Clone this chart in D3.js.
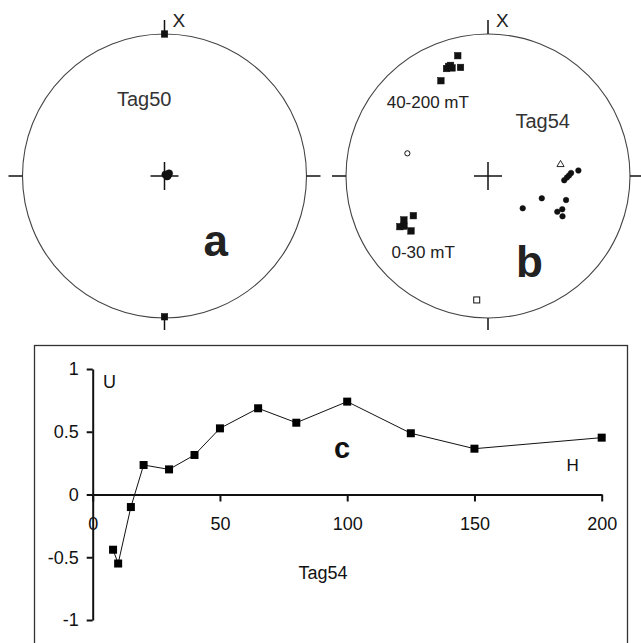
<!DOCTYPE html>
<html>
<head>
<meta charset="utf-8">
<script src="https://cdn.jsdelivr.net/npm/d3@7"></script>
<style>
  body { margin: 0; background: #fff; }
  svg { display: block; font-family: "Liberation Sans", Arial, sans-serif; }
</style>
</head>
<body>
<svg id="fig" width="641" height="643"></svg>
<script>
// ---- Stereonet directions: [declination, inclination] in degrees (positive = lower hemisphere) ----
const tag50Squares = [[0, 0], [180, 1]];
const tag50Circles = [[60, 87], [100, 88.5], [30, 89], [80, 88]];

const tag54HighSquares = [[345.9, 13.7], [341.3, 18.9], [338.9, 20.0], [341.6, 20.9], [345.8, 22.2], [333.7, 26.1], [340.2, 19.1]];
const tag54LowSquares = [[242.0, 40.2], [242.4, 33.6], [240.1, 29.2], [239.2, 31.7], [234.5, 33.8]];
const tag54Circles = [[86.5, 36.4], [87.9, 41.1], [89.6, 42.4], [91.1, 43.7], [93.2, 45.3], [112.5, 56.3], [132.9, 62.7], [107.1, 42.0], [114.1, 42.2], [117.3, 44.3], [118.4, 40.1]];
const tag54OpenCircles = [[285.7, -40.7]];
const tag54OpenSquares = [[185.2, -13.4]];
const tag54OpenTriangles = [[81.0, -47.1]];

// ---- U versus alternating field H (mT) for Tag54 ----
const fieldH = [8, 10, 15, 20, 30, 40, 50, 65, 80, 100, 125, 150, 200];
const uValues = [-0.44, -0.55, -0.10, 0.235, 0.20, 0.315, 0.527, 0.687, 0.572, 0.74, 0.488, 0.365, 0.453];
const xTicks = [0, 50, 100, 150, 200];
const yTicks = [-1, -0.5, 0, 0.5, 1];

const svg = d3.select("#fig");
const rad = Math.PI / 180;

// Equal-area stereonet with a radial scale for the projected distance
function stereonet(cx, cy, R) {
  const g = svg.append("g");
  const radius = d3.scaleLinear().domain([0, 1]).range([0, R]);
  const project = ([dec, inc]) => {
    const rho = Math.SQRT2 * Math.sin((90 - Math.abs(inc)) / 2 * rad);
    const r = radius(rho);
    return [cx + r * Math.sin(dec * rad), cy - r * Math.cos(dec * rad)];
  };
  g.append("circle").attr("cx", cx).attr("cy", cy).attr("r", R)
    .attr("fill", "none").attr("stroke", "#444").attr("stroke-width", 1.1);
  const t = 14;
  const segs = [
    [cx, cy - R - t, cx, cy - R], [cx, cy + R, cx, cy + R + 12],
    [cx - R - t, cy, cx - R, cy], [cx + R, cy, cx + R + t, cy],
    [cx - t, cy, cx + t, cy], [cx, cy - t, cx, cy + t]
  ];
  g.selectAll("line.tk").data(segs).join("line").attr("class", "tk")
    .attr("x1", d => d[0]).attr("y1", d => d[1]).attr("x2", d => d[2]).attr("y2", d => d[3])
    .attr("stroke", "#111").attr("stroke-width", 1.5);
  g.append("text").attr("x", cx + 8).attr("y", cy - R - 7.5)
    .attr("font-size", 19).attr("fill", "#222").text("X");
  return { g, project };
}

function squares(g, project, data, size, filled) {
  g.selectAll(null).data(data).join("rect")
    .attr("x", d => project(d)[0] - size / 2).attr("y", d => project(d)[1] - size / 2)
    .attr("width", size).attr("height", size)
    .attr("fill", filled ? "#111" : "#fff").attr("stroke", "#111").attr("stroke-width", filled ? 0.5 : 1);
}
function dots(g, project, data, r, filled) {
  g.selectAll(null).data(data).join("circle")
    .attr("cx", d => project(d)[0]).attr("cy", d => project(d)[1]).attr("r", r)
    .attr("fill", filled ? "#111" : "#fff").attr("stroke", "#111").attr("stroke-width", filled ? 0.5 : 1);
}

// Panel a
const a = stereonet(164.5, 176, 142);
squares(a.g, a.project, tag50Squares, 6.5, true);
dots(a.g, a.project, tag50Circles, 3.6, true);
a.g.append("text").attr("x", 117).attr("y", 106).attr("font-size", 20).attr("fill", "#333").text("Tag50");
a.g.append("text").attr("x", 203.5).attr("y", 256).attr("font-size", 44).attr("font-weight", "bold").attr("fill", "#222").text("a");

// Panel b
const b = stereonet(488, 176, 142);
squares(b.g, b.project, tag54HighSquares, 6.5, true);
squares(b.g, b.project, tag54LowSquares, 6.5, true);
dots(b.g, b.project, tag54Circles, 2.8, true);
dots(b.g, b.project, tag54OpenCircles, 2.6, false);
squares(b.g, b.project, tag54OpenSquares, 6, false);
b.g.selectAll(null).data(tag54OpenTriangles).join("path")
  .attr("transform", d => `translate(${b.project(d)})`)
  .attr("d", d3.symbol(d3.symbolTriangle, 22))
  .attr("fill", "#fff").attr("stroke", "#111").attr("stroke-width", 0.9);
b.g.append("text").attr("x", 386.7).attr("y", 108.3).attr("font-size", 17).attr("fill", "#222").text("40-200 mT");
b.g.append("text").attr("x", 391.5).attr("y", 258.3).attr("font-size", 17).attr("fill", "#222").text("0-30 mT");
b.g.append("text").attr("x", 515.5).attr("y", 127.5).attr("font-size", 20).attr("fill", "#333").text("Tag54");
b.g.append("text").attr("x", 516).attr("y", 277).attr("font-size", 44).attr("font-weight", "bold").attr("fill", "#222").text("b");

// Panel c
const c = svg.append("g");
c.append("rect").attr("x", 34.5).attr("y", 345.5).attr("width", 593).attr("height", 320)
  .attr("fill", "none").attr("stroke", "#333").attr("stroke-width", 1.3);

const x = d3.scaleLinear().domain([0, 200]).range([92.7, 601.7]);
const y = d3.scaleLinear().domain([-1, 1]).range([620, 369]);
const fmt = d => String(d);

const yAxis = c.append("g").attr("transform", `translate(${x(0)},0)`)
  .call(d3.axisLeft(y).tickValues(yTicks).tickFormat(fmt).tickSize(6).tickSizeOuter(0).tickPadding(8));
const xAxis = c.append("g").attr("transform", `translate(0,${y(0)})`)
  .call(d3.axisBottom(x).tickValues(xTicks).tickFormat(fmt).tickSize(7).tickSizeOuter(0).tickPadding(16));
[yAxis, xAxis].forEach(ax => {
  ax.selectAll("path.domain").attr("stroke", "#111").attr("stroke-width", 2);
  ax.selectAll(".tick line").attr("stroke", "#111").attr("stroke-width", 2);
  ax.selectAll(".tick text").attr("font-size", 18).attr("fill", "#111")
    .attr("font-family", "'Liberation Sans', Arial, sans-serif");
});

const line = d3.line().x((d, i) => x(fieldH[i])).y(d => y(d));
c.append("path").datum(uValues).attr("d", line)
  .attr("fill", "none").attr("stroke", "#111").attr("stroke-width", 1);
c.selectAll("rect.pt").data(uValues).join("rect").attr("class", "pt")
  .attr("x", (d, i) => x(fieldH[i]) - 4).attr("y", d => y(d) - 4)
  .attr("width", 8).attr("height", 8).attr("fill", "#000");

c.append("text").attr("x", 103).attr("y", 388).attr("font-size", 18).attr("fill", "#111").text("U");
c.append("text").attr("x", 566.5).attr("y", 470.5).attr("font-size", 17).attr("fill", "#111").text("H");
c.append("text").attr("x", 334).attr("y", 457.5).attr("font-size", 29).attr("font-weight", "bold").attr("fill", "#111").text("c");
c.append("text").attr("x", 298.5).attr("y", 579).attr("font-size", 18).attr("fill", "#111").text("Tag54");
</script>
</body>
</html>
